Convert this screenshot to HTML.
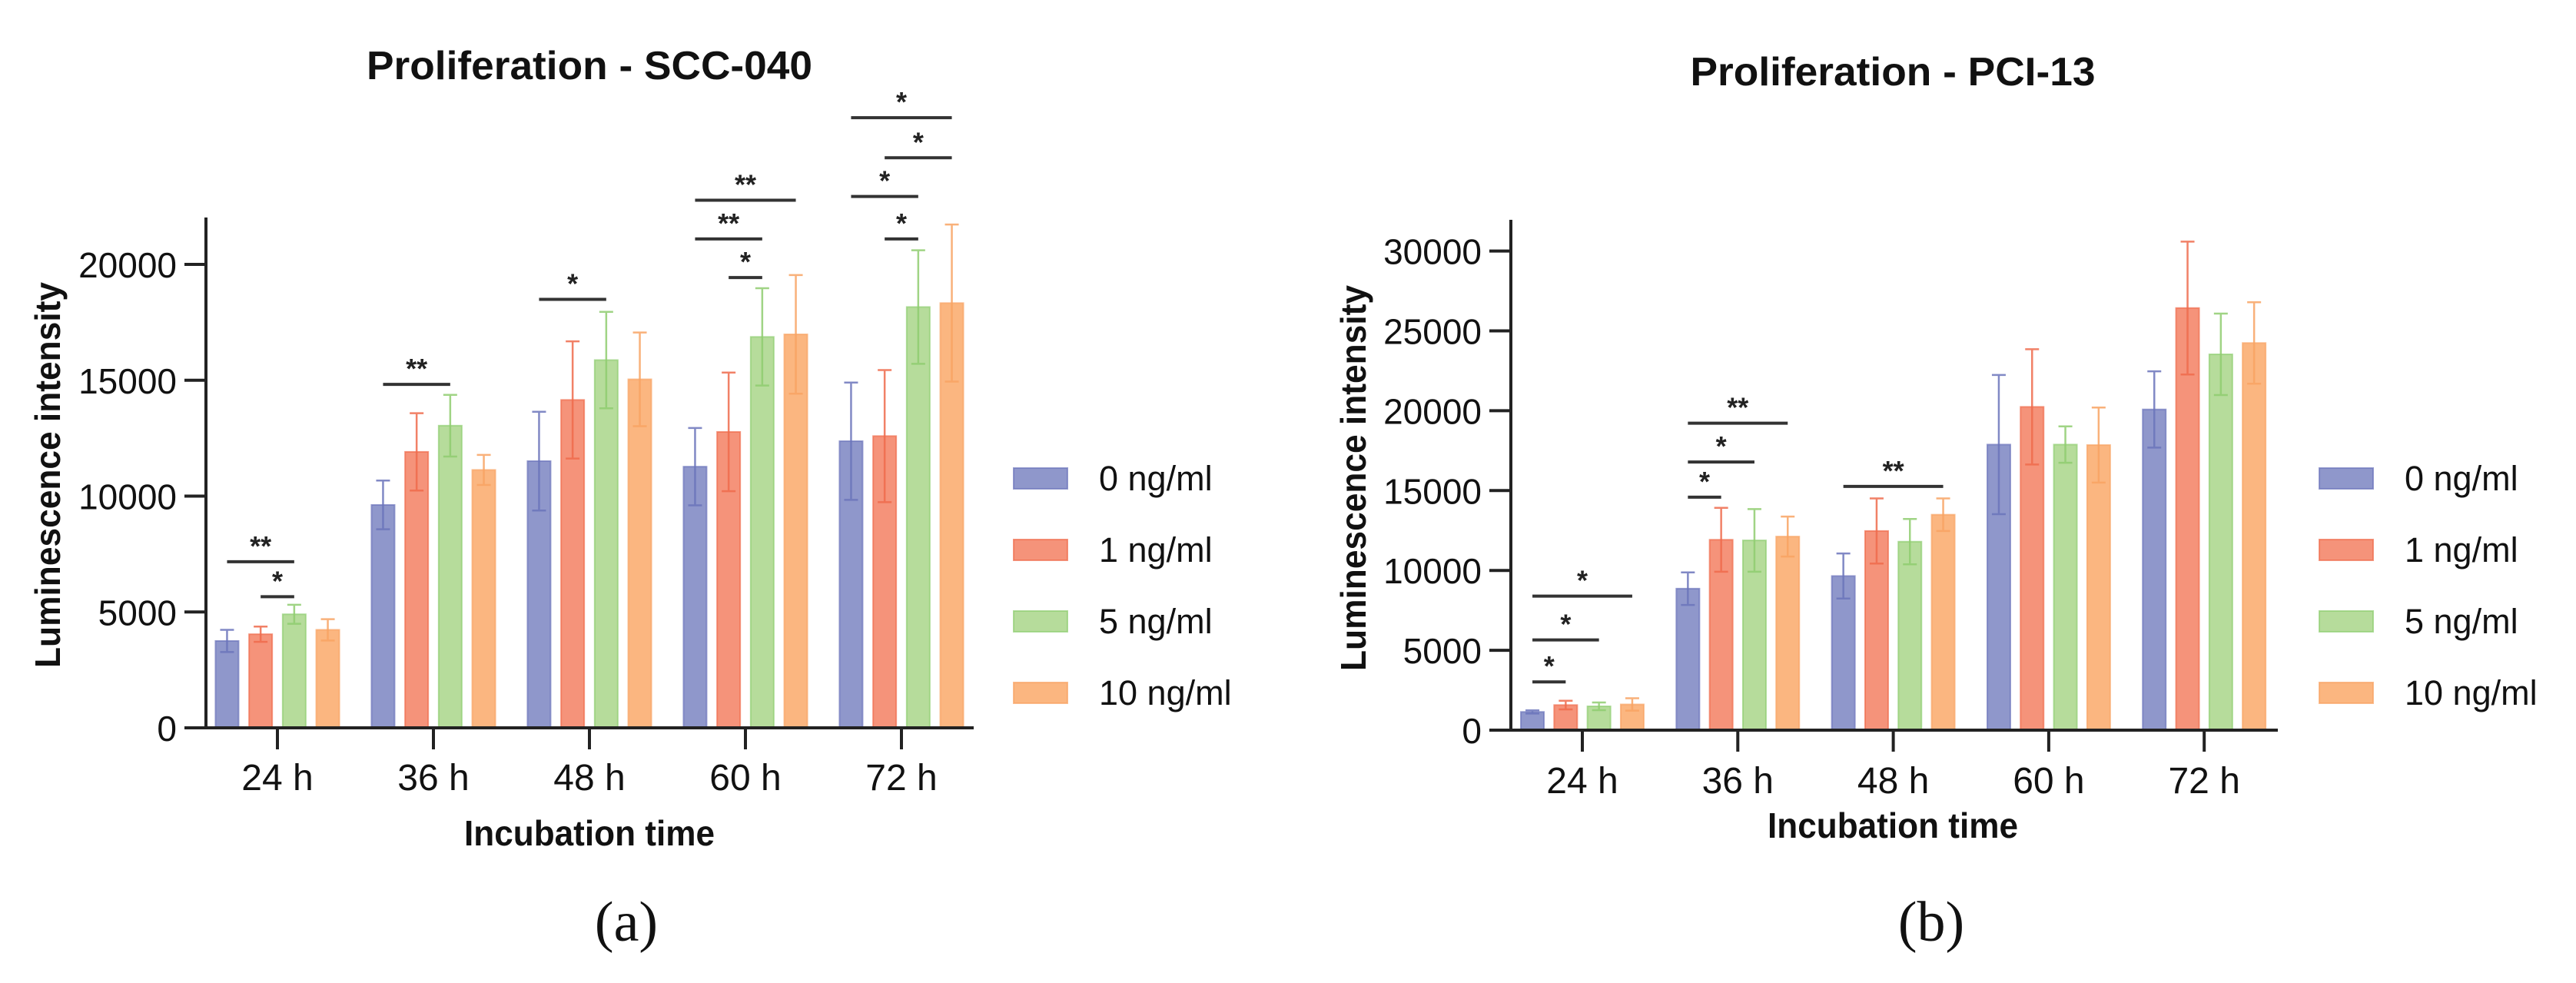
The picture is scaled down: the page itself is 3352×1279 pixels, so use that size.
<!DOCTYPE html>
<html><head><meta charset="utf-8"><style>
html,body{margin:0;padding:0;background:#fff;}
svg{display:block;font-family:"Liberation Sans",Arial,sans-serif;}
</style></head><body>
<svg id="fig" width="3352" height="1279" viewBox="0 0 3352 1279" xmlns="http://www.w3.org/2000/svg">
<g id="chartA"></g>
<g id="chartB"></g>
<text x="815" y="1224" font-family="Liberation Serif,serif" font-size="74" text-anchor="middle" fill="#111">(a)</text>
<text x="2513" y="1224" font-family="Liberation Serif,serif" font-size="74" text-anchor="middle" fill="#111">(b)</text>
</svg>
<script>
const categories = ["24 h","36 h","48 h","60 h","72 h"];
const seriesNames = ["0 ng/ml","1 ng/ml","5 ng/ml","10 ng/ml"];
// Chart A (SCC-040) means and SD
const aMean0 = [3750, 9620, 11510, 11270, 12370];
const aMean1 = [4040, 11910, 14150, 12770, 12590];
const aMean5 = [4900, 13040, 15870, 16870, 18160];
const aMean10 = [4230, 11130, 15040, 16980, 18330];
const aSd0 = [480, 1050, 2130, 1670, 2530];
const aSd1 = [330, 1670, 2530, 2560, 2850];
const aSd5 = [410, 1330, 2080, 2100, 2450];
const aSd10 = [460, 650, 2020, 2560, 3390];
const aTicks = [0, 5000, 10000, 15000, 20000];
// brackets: [category index, series from, series to, y value, label]
const aBrackets = [[0,0,2,7170,"**"],[0,1,2,5660,"*"],[1,0,2,14820,"**"],[2,0,2,18490,"*"],
  [3,0,3,22770,"**"],[3,0,2,21100,"**"],[3,1,2,19430,"*"],
  [4,0,3,26330,"*"],[4,1,3,24600,"*"],[4,0,2,22930,"*"],[4,1,2,21100,"*"]];
// Chart B (PCI-13)
const bMean0 = [1140, 8860, 9650, 17880, 20080];
const bMean1 = [1570, 11920, 12470, 20240, 26430];
const bMean5 = [1490, 11880, 11800, 17880, 23530];
const bMean10 = [1610, 12120, 13490, 17850, 24240];
const bSd0 = [100, 1020, 1410, 4360, 2390];
const bSd1 = [270, 2000, 2040, 3610, 4160];
const bSd5 = [240, 1960, 1420, 1140, 2550];
const bSd10 = [390, 1250, 1020, 2350, 2550];
const bTicks = [0, 5000, 10000, 15000, 20000, 25000, 30000];
const bBrackets = [[0,0,3,8390,"*"],[0,0,2,5650,"*"],[0,0,1,3020,"*"],
  [1,0,3,19220,"**"],[1,0,2,16790,"*"],[1,0,1,14590,"*"],[2,0,3,15260,"**"]];

const fills = ["#8f97cb","#f5937a","#b6dc9b","#fbb680"];
const strokes = ["#6b74bb","#ef6b4c","#8fcd70","#f8a363"];
const NS = "http://www.w3.org/2000/svg";
function mk(parent, tag, attrs, text){
  const e = document.createElementNS(NS, tag);
  for (const k in attrs) e.setAttribute(k, attrs[k]);
  if (text !== undefined) e.textContent = text;
  parent.appendChild(e); return e;
}
function drawChart(g, cfg){
  const y = v => cfg.zeroY - v * cfg.pxPer;
  const xc = i => cfg.firstX + i * cfg.groupStep;
  const bx = (i, s) => xc(i) + (s - 1.5) * cfg.barPitch;
  const title = mk(g, "text", {x: cfg.titleX, y: cfg.titleY, "font-size": 52, "font-weight": "bold", "text-anchor": "middle", textLength: cfg.titleW, lengthAdjust: "spacingAndGlyphs", fill: "#111"}, cfg.title);
  
  
  const yt = mk(g, "text", {x: 0, y: 0, transform: `translate(${cfg.yTitleX},${cfg.yTitleY}) rotate(-90)`, "font-size": 46, "font-weight": "bold", "text-anchor": "middle", textLength: 502, lengthAdjust: "spacingAndGlyphs", fill: "#111"}, "Luminescence intensity");
  
  
  const xt = mk(g, "text", {x: cfg.xTitleX, y: cfg.xTitleY, "font-size": 46, "font-weight": "bold", "text-anchor": "middle", textLength: 326, lengthAdjust: "spacingAndGlyphs", fill: "#111"}, "Incubation time");
  
  
  // bars
  for (let s = 0; s < 4; s++){
    for (let i = 0; i < categories.length; i++){
      const m = cfg.means[s][i], sd = cfg.sds[s][i];
      const x0 = bx(i, s);
      const r = mk(g, "rect", {x: x0 - 15, y: y(m), width: 30, height: cfg.zeroY - y(m), fill: fills[s], stroke: strokes[s], "stroke-width": 2, "stroke-opacity": 0.7});
      
      
      const eb = mk(g, "path", {d: `M${x0},${y(m - sd)}V${y(m + sd)}M${x0 - 9},${y(m + sd)}H${x0 + 9}M${x0 - 9},${y(m - sd)}H${x0 + 9}`, stroke: strokes[s], "stroke-width": 2.5, fill: "none", "stroke-opacity": 0.85});
      
      
    }
  }
  // axes
  const ax = mk(g, "path", {d: `M${cfg.axisX},${cfg.axisTop}V${cfg.zeroY}M${cfg.axisX - 28},${cfg.zeroY}H${cfg.axisRight}`, stroke: "#222", "stroke-width": 4, fill: "none"});
  
  
  cfg.ticks.forEach(t => {
    const tk = mk(g, "path", {d: `M${cfg.axisX - 28},${y(t)}H${cfg.axisX}`, stroke: "#222", "stroke-width": 4});
    
    
    const tl = mk(g, "text", {x: cfg.axisX - 38, y: y(t) + 17, "font-size": 46, "text-anchor": "end", fill: "#111"}, String(t));
    
    
  });
  categories.forEach((c, i) => {
    const tk = mk(g, "path", {d: `M${xc(i)},${cfg.zeroY}V${cfg.zeroY + 28}`, stroke: "#222", "stroke-width": 4});
    
    
    const tl = mk(g, "text", {x: xc(i), y: cfg.xLabelY, "font-size": 48, "text-anchor": "middle", fill: "#111"}, c);
    
    
  });
  cfg.brackets.forEach(b => {
    const x1 = bx(b[0], b[1]), x2 = bx(b[0], b[2]), yy = y(b[3]);
    const ln = mk(g, "path", {d: `M${x1},${yy}H${x2}`, stroke: "#333", "stroke-width": 4});
    
    
    const st = mk(g, "text", {x: (x1 + x2) / 2, y: yy - 8, "font-size": 36, "font-weight": "bold", "text-anchor": "middle", fill: "#222"}, b[4]);
    
    
  });
  seriesNames.forEach((n, s) => {
    const cy = cfg.legendY0 + s * 93;
    const sw = mk(g, "rect", {x: cfg.legendX, y: cy - 13, width: 70, height: 27, fill: fills[s], stroke: strokes[s], "stroke-width": 2, "stroke-opacity": 0.7});
    
    
    const lt = mk(g, "text", {x: cfg.legendX + 111, y: cy + 16, "font-size": 45, fill: "#111"}, n);
    
    
  });
}
drawChart(document.getElementById("chartA"), {
  title: "Proliferation - SCC-040", titleX: 767, titleY: 103, titleW: 580,
  yTitleX: 78, yTitleY: 618, xTitleX: 767, xTitleY: 1100, xLabelY: 1028,
  zeroY: 947, pxPer: 150.75 / 5000, axisX: 268, axisTop: 283, axisRight: 1267,
  firstX: 361, groupStep: 203, barPitch: 43.7,
  means: [aMean0, aMean1, aMean5, aMean10], sds: [aSd0, aSd1, aSd5, aSd10],
  ticks: aTicks, brackets: aBrackets, legendX: 1319, legendY0: 622
});
drawChart(document.getElementById("chartB"), {
  title: "Proliferation - PCI-13", titleX: 2463, titleY: 111, titleW: 527,
  yTitleX: 1777, yTitleY: 622, xTitleX: 2463, xTitleY: 1090, xLabelY: 1032,
  zeroY: 950, pxPer: 103.9 / 5000, axisX: 1966, axisTop: 286, axisRight: 2964,
  firstX: 2059, groupStep: 202.3, barPitch: 43.3,
  means: [bMean0, bMean1, bMean5, bMean10], sds: [bSd0, bSd1, bSd5, bSd10],
  ticks: bTicks, brackets: bBrackets, legendX: 3018, legendY0: 622
});
</script>
</body></html>
